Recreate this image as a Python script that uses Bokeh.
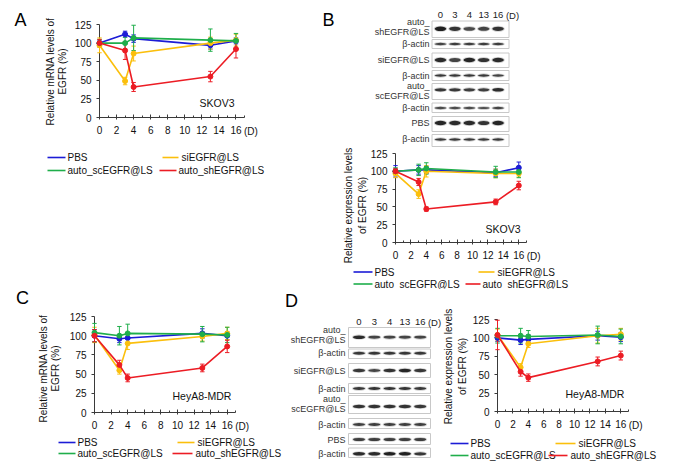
import math
from bokeh.plotting import figure
from bokeh.models import Range1d, SingleIntervalTicker, FixedTicker
from bokeh.core.properties import value
from bokeh.layouts import row, column
from bokeh.embed import file_html
from bokeh.resources import INLINE

FONT = "Liberation Sans"

# ---------------- data ----------------
days = [0, 3, 4, 13, 16]
day_unit = "(D)"
y_ticks = [0, 25, 50, 75, 100, 125]
series_names = ["PBS", "siEGFR@LS", "auto_scEGFR@LS", "auto_shEGFR@LS"]
series_colors = ["#1c1cd6", "#fbbf0c", "#1fae4b", "#ec1c24"]

# A: SKOV3, mRNA
a_pbs = [100, 112, 106, 97, 103]
a_pbs_err = [3, 4, 5, 5, 4]
a_si = [97, 49, 86, 100, 104]
a_si_err = [10, 5, 10, 8, 8]
a_sc = [100, 100, 107, 104, 103]
a_sc_err = [5, 8, 17, 15, 10]
a_sh = [100, 90, 41, 55, 92]
a_sh_err = [5, 12, 6, 7, 12]

# B: SKOV3, protein
b_pbs = [100, 102, 102, 98, 105]
b_pbs_err = [8, 6, 5, 5, 8]
b_si = [97, 68, 100, 97, 97]
b_si_err = [6, 6, 8, 6, 5]
b_sc = [100, 102, 104, 99, 99]
b_sc_err = [5, 8, 8, 8, 8]
b_sh = [100, 85, 47, 57, 80]
b_sh_err = [4, 5, 3, 4, 6]

# C: HeyA8-MDR, mRNA
c_pbs = [100, 96, 97, 103, 100]
c_pbs_err = [8, 5, 6, 6, 5]
c_si = [101, 55, 90, 99, 103]
c_si_err = [10, 5, 8, 6, 8]
c_sc = [104, 100, 103, 102, 101]
c_sc_err = [12, 12, 12, 10, 10]
c_sh = [100, 62, 45, 58, 86]
c_sh_err = [8, 6, 5, 5, 8]

# D: HeyA8-MDR, protein
d_pbs = [100, 97, 98, 103, 101]
d_pbs_err = [5, 6, 6, 6, 6]
d_si = [104, 60, 92, 103, 105]
d_si_err = [8, 5, 5, 10, 8]
d_sc = [103, 103, 102, 104, 102]
d_sc_err = [10, 10, 8, 12, 10]
d_sh = [104, 54, 46, 68, 76]
d_sh_err = [20, 6, 5, 6, 6]

# Western blots
lanes = ["0", "3", "4", "13", "16"]
blot_rows = ["auto_shEGFR@LS", "β-actin", "siEGFR@LS", "β-actin",
             "auto_scEGFR@LS", "β-actin", "PBS", "β-actin"]
b_bands = [
    [1.0, 0.85, 0.65, 0.7, 0.85],
    [0.7, 0.75, 0.75, 0.75, 0.75],
    [0.9, 0.7, 0.95, 0.85, 0.9],
    [0.8, 0.8, 0.8, 0.8, 0.7],
    [0.8, 0.8, 0.75, 0.75, 0.9],
    [0.65, 0.65, 0.65, 0.6, 0.7],
    [0.95, 0.9, 0.9, 0.85, 0.95],
    [0.8, 0.8, 0.8, 0.8, 0.8],
]
d_bands = [
    [0.9, 0.7, 0.7, 0.7, 0.7],
    [0.8, 0.8, 0.8, 0.8, 0.8],
    [0.8, 0.7, 0.85, 0.95, 0.8],
    [0.8, 0.85, 0.85, 0.85, 0.8],
    [0.85, 0.85, 0.85, 0.85, 0.8],
    [0.75, 0.75, 0.75, 0.75, 0.75],
    [0.75, 0.75, 0.75, 0.75, 0.75],
    [0.9, 0.9, 1.0, 1.0, 0.8],
]

LVL = "annotation"   # drawn without clipping to the frame


def put_text(p, x, y, txt, size="10px", align="left", angle=0.0, color="#111111"):
    p.text(x=[x], y=[y], text=[txt], angle=angle, text_font=value(FONT),
           text_font_size=value(size), text_color=color, text_align=align,
           text_baseline="middle", level=LVL)


# ---------------- helpers ----------------
def chart(fl, ft, W, H, mb, series, errs, ylab, tpos, cell, cpos, leg,
          letter=None, lpos=None):
    mbl, mbr, mbt, mbb = mb
    p = figure(width=W, height=H, x_range=Range1d(0, 17), y_range=Range1d(0, 125),
               output_backend="svg", toolbar_location=None,
               min_border_left=mbl, min_border_right=mbr,
               min_border_top=mbt, min_border_bottom=mbb)
    p.outline_line_color = None
    p.xgrid.visible = False
    p.ygrid.visible = False
    p.background_fill_color = "white"
    p.border_fill_color = "white"
    X0 = fl + mbl
    KX = (W - mbl - mbr) / 17.0
    Y0 = ft + H - mbb
    KY = (H - mbt - mbb) / 125.0

    def fx(px):
        return (px - X0) / KX

    def fy(py):
        return (Y0 - py) / KY

    xa = p.xaxis[0]
    ya = p.yaxis[0]
    xa.ticker = SingleIntervalTicker(interval=2, num_minor_ticks=2)
    ya.ticker = FixedTicker(ticks=y_ticks)
    for ax in (xa, ya):
        ax.axis_line_color = "#3a3a3a"
        ax.major_tick_line_color = "#3a3a3a"
        ax.minor_tick_line_color = "#3a3a3a"
        ax.major_label_text_font = FONT
        ax.major_label_text_font_size = "10px"
        ax.major_label_text_color = "#111111"
    xa.major_tick_in = 3
    xa.major_tick_out = 2
    xa.minor_tick_in = 2
    xa.minor_tick_out = 0
    xa.major_label_standoff = 6
    ya.major_tick_in = 0
    ya.major_tick_out = 3
    ya.minor_tick_line_color = None
    ya.major_label_standoff = 5

    cap = 2.2 / KX
    for vals, err, c in zip(series, errs, series_colors):
        lo = [v - e for v, e in zip(vals, err)]
        hi = [v + e for v, e in zip(vals, err)]
        xl = [d - cap for d in days]
        xr = [d + cap for d in days]
        p.segment(days, lo, days, hi, line_color=c, line_width=1, level=LVL)
        p.segment(xl, hi, xr, hi, line_color=c, line_width=1, level=LVL)
        p.segment(xl, lo, xr, lo, line_color=c, line_width=1, level=LVL)
    for vals, c in zip(series, series_colors):
        p.line(days, vals, line_color=c, line_width=1.6, level=LVL)
        p.scatter(days, vals, marker="circle", size=5, fill_color=c, line_color=c,
                  level=LVL)

    # legend
    for name, c, (lx0, lx1, tx, ly) in zip(series_names, series_colors, leg):
        p.line([fx(lx0), fx(lx1)], [fy(ly), fy(ly)], line_color=c, line_width=1.6,
               level=LVL)
        p.scatter([fx((lx0 + lx1) / 2.0)], [fy(ly)], marker="circle", size=5,
                  fill_color=c, line_color=c, level=LVL)
        put_text(p, fx(tx), fy(ly), name)
    # y title
    for txt, tx in zip(ylab, tpos[0]):
        put_text(p, fx(tx), fy(tpos[1]), txt, align="center", angle=math.pi / 2)
    # cell line
    put_text(p, fx(cpos[0]), fy(cpos[1]), cell, size="10.5px")
    # day unit
    put_text(p, 16 + 8.0 / KX, -14.0 / KY, day_unit)
    if letter:
        put_text(p, fx(lpos[0]), fy(lpos[1]), letter, size="18px", align="center",
                 color="#000000")
    return p


def blot(fl, ft, W, H, mb, strengths, lane_x0, lane_dx, band_w, box_x, header_y, unit_x,
         band_y, boxes, band_h, label_right, label_cy, letter, lpos):
    mbl, mbr, mbt, mbb = mb
    p = figure(width=W, height=H,
               x_range=Range1d(fl + mbl, fl + W - mbr),
               y_range=Range1d(-(ft + H - mbb), -(ft + mbt)),
               output_backend="svg", toolbar_location=None,
               min_border_left=mbl, min_border_right=mbr,
               min_border_top=mbt, min_border_bottom=mbb,
               x_axis_type=None, y_axis_type=None)
    p.outline_line_color = None
    p.background_fill_color = "white"
    p.border_fill_color = "white"
    lane_xs = [lane_x0 + i * lane_dx for i in range(len(lanes))]

    bxc = (box_x[0] + box_x[1]) / 2.0
    bw = box_x[1] - box_x[0]
    p.rect(x=[bxc] * len(boxes), y=[-(t + b) / 2.0 for t, b in boxes], width=bw,
           height=[b - t for t, b in boxes], fill_color="white",
           line_color="#c8c8c8", line_width=1, level=LVL)

    xs, ys, hs, al = [], [], [], []
    for r, vals in enumerate(strengths):
        for i, s in enumerate(vals):
            xs.append(lane_xs[i])
            ys.append(-band_y[r])
            hs.append(band_h[r] * (0.5 + 0.4 * s))
            al.append(0.3 + 0.65 * s)
    p.ellipse(x=xs, y=ys, width=band_w + 2, height=[h + 1.8 for h in hs],
              fill_color="#808080", fill_alpha=0.35, line_color=None, level=LVL)
    p.ellipse(x=xs, y=ys, width=band_w, height=hs, fill_color="#161616",
              fill_alpha=al, line_color=None, level=LVL)

    for lx, lab in zip(lane_xs, lanes):
        put_text(p, lx, -header_y, lab, size="9.5px", align="center", color="#222222")
    put_text(p, unit_x, -header_y, day_unit, size="9.5px", align="center",
             color="#222222")
    for name, cy in zip(blot_rows, label_cy):
        if name.startswith("auto_"):
            parts = [("auto_", cy - 5), (name[5:], cy + 5)]
        else:
            parts = [(name, cy)]
        for txt, yy in parts:
            put_text(p, label_right, -yy, txt, size="9px", align="right",
                     color="#333333")
    put_text(p, lpos[0], -lpos[1], letter, size="18px", align="center", color="#000000")
    return p


ylab_mrna = ["Relative mRNA levels of", "EGFR (%)"]
ylab_prot = ["Relative expression levels", "of EGFR (%)"]

B_LR = (111, 152)
D_TB = (30, 54)

# left column: A (0..240), C (240..465)
figA = chart(0, 0, 284, 240, (99, 40, 24, 123),
             [a_pbs, a_si, a_sc, a_sh], [a_pbs_err, a_si_err, a_sc_err, a_sh_err],
             ylab_mrna, ([50, 62], 71), "SKOV3", (199, 102),
             [(47, 65, 67, 157), (162, 178, 181, 157), (47, 65, 67, 170), (159, 176, 178, 170)],
             "A", (20, 19))

figC = chart(0, 240, 284, 225, (94, 49, 76, 53),
             [c_pbs, c_si, c_sc, c_sh], [c_pbs_err, c_si_err, c_sc_err, c_sh_err],
             ylab_mrna, ([43, 55], 368), "HeyA8-MDR", (172, 395),
             [(58, 75, 77, 442), (177, 194, 197, 442), (58, 75, 77, 453), (172, 192, 195, 453)],
             "C", (22, 297.5))

# right column: B blot (0..147), B chart (147..289), D row (289..465)
figBb = blot(284, 0, 394, 147, (B_LR[0], B_LR[1], 0, 0), b_bands, 440, 14.4, 11.5,
             (431.5, 508.5), 14.5, 512,
             [28.3, 43.5, 59.5, 75, 89.3, 107.5, 122.5, 139],
             [(20.5, 37), (39, 48), (52.5, 67), (70, 80), (83, 99), (102.5, 112), (116, 131), (134, 146)],
             [5, 3, 5, 3, 4, 3, 5, 3], 429,
             [26.7, 43.5, 59.5, 75, 90, 107.5, 122.5, 138.5], "B", (328, 19))

figBc = chart(284, 147, 394, 142, (B_LR[0], B_LR[1], 6, 47),
              [b_pbs, b_si, b_sc, b_sh], [b_pbs_err, b_si_err, b_sc_err, b_sh_err],
              ylab_prot, ([348, 362], 205), "SKOV3", (485, 228),
              [(353, 372, 374, 271.5), (478, 494, 497, 271.5), (353, 372, 374, 283.5), (465, 480, 482, 283.5)])

figDb = blot(284, 289, 159, 176, (0, 0, D_TB[0], D_TB[1]), d_bands, 358.5, 15.3, 12,
             (348, 430), 321.7, 434,
             [336.7, 352.7, 370, 388, 406, 424, 439, 453.3],
             [(327, 347), (348.5, 358), (363, 377), (383, 393), (395, 413), (418, 428), (433, 444), (447.5, 457)],
             [4, 3.5, 4, 3.5, 4, 3.5, 4, 4], 345,
             [334.3, 352.7, 370, 388, 403.3, 424, 439, 453.3], "D", (291, 300))

figDc = chart(443, 289, 235, 176, (54, 50, D_TB[0], D_TB[1]),
              [d_pbs, d_si, d_sc, d_sh], [d_pbs_err, d_si_err, d_sc_err, d_sh_err],
              ylab_prot, ([448, 462], 366), "HeyA8-MDR", (565, 393),
              [(450, 468, 470, 443), (555, 575, 578, 443), (450, 468, 470, 455), (548, 567, 570, 455)])

layout = row(column(row(figA), row(figC)),
             column(figBb, figBc, row(figDb, figDc)))

open("out.html", "w").write(file_html(layout, INLINE))
